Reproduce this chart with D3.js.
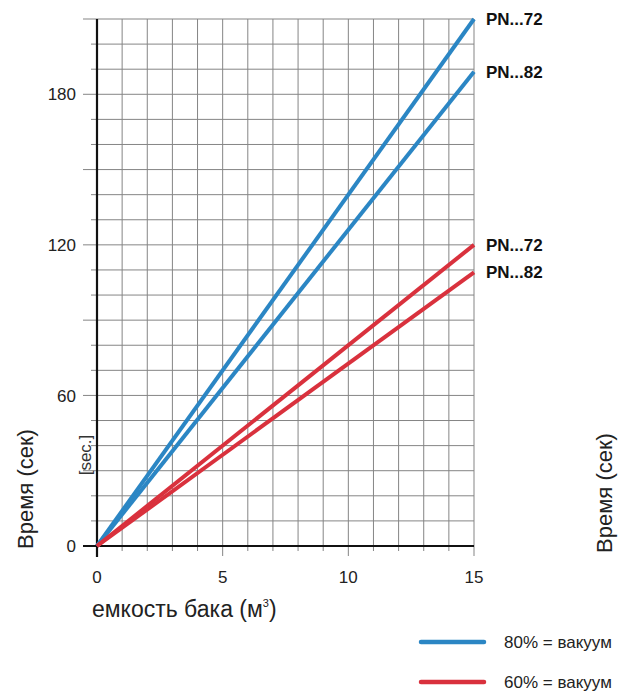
<!DOCTYPE html>
<html>
<head>
<meta charset="utf-8">
<script src="https://cdn.jsdelivr.net/npm/d3@7"></script>
<style>
  body { margin: 0; background: #fff; }
  svg { font-family: "Liberation Sans", Arial, sans-serif; }
</style>
</head>
<body>
<svg id="chart" width="625" height="695"></svg>
<script>
// tank volume (m3) and time (sec) for each curve
const volumes = [0, 15];
const blue72 = [0, 210];
const blue82 = [0, 189];
const red72 = [0, 120];
const red82 = [0, 109];
const seriesNames = ["PN...72", "PN...82", "PN...72", "PN...82"];
const legendLabels = ["80% = вакуум", "60% = вакуум"];
const xTicks = [0, 5, 10, 15];
const yTicks = [0, 60, 120, 180];

const blue = "#2b86c4", red = "#d9313d";
const series = [
  { name: seriesNames[0], values: blue72, color: blue },
  { name: seriesNames[1], values: blue82, color: blue },
  { name: seriesNames[2], values: red72, color: red },
  { name: seriesNames[3], values: red82, color: red }
];

const margin = { left: 97, right: 474, top: 19, bottom: 546 };
const svg = d3.select("#chart");

const x = d3.scaleLinear().domain([0, 15]).range([margin.left, margin.right]);
const y = d3.scaleLinear().domain([0, 210]).range([margin.bottom, margin.top]);

// grid
const grid = svg.append("g").attr("stroke", "#858585").attr("stroke-width", 1);
d3.range(1, 16).forEach(v => {
  grid.append("line")
    .attr("x1", x(v)).attr("x2", x(v))
    .attr("y1", y(210)).attr("y2", y(0) + (v % 5 === 0 ? 10 : 5));
});
d3.range(10, 211, 10).forEach(v => {
  grid.append("line")
    .attr("x1", x(0) - (v % 30 === 0 ? 14 : 6)).attr("x2", x(15))
    .attr("y1", y(v)).attr("y2", y(v));
});

// main axes
svg.append("line")
  .attr("x1", x(0)).attr("x2", x(0))
  .attr("y1", y(210)).attr("y2", y(0) + 11)
  .attr("stroke", "#111").attr("stroke-width", 2.2);
svg.append("line")
  .attr("x1", x(0) - 14).attr("x2", x(15))
  .attr("y1", y(0)).attr("y2", y(0))
  .attr("stroke", "#111").attr("stroke-width", 2.2);

// tick labels
svg.append("g").selectAll("text").data(yTicks).join("text")
  .attr("x", x(0) - 21).attr("y", d => y(d)).attr("dy", "0.36em")
  .attr("text-anchor", "end").attr("font-size", 17).attr("fill", "#222")
  .text(d => d);
svg.append("g").selectAll("text").data(xTicks).join("text")
  .attr("x", d => x(d)).attr("y", y(0) + 37)
  .attr("text-anchor", "middle").attr("font-size", 17).attr("fill", "#222")
  .text(d => d);

// lines
const line = d3.line().x((d, i) => x(volumes[i])).y(d => y(d));
svg.append("g").selectAll("path").data(series).join("path")
  .attr("d", d => line(d.values))
  .attr("fill", "none")
  .attr("stroke", d => d.color)
  .attr("stroke-width", 4);

// series labels
svg.append("g").selectAll("text").data(series).join("text")
  .attr("x", x(15) + 12)
  .attr("y", d => y(d.values[1])).attr("dy", "0.35em")
  .attr("font-size", 17).attr("font-weight", "bold").attr("fill", "#111")
  .text(d => d.name);

// axis titles
svg.append("text")
  .attr("transform", `translate(33,489) rotate(-90)`)
  .attr("text-anchor", "middle").attr("font-size", 22).attr("fill", "#222")
  .text("Время (сек)");
svg.append("text")
  .attr("transform", `translate(612,493) rotate(-90)`)
  .attr("text-anchor", "middle").attr("font-size", 22).attr("fill", "#222")
  .text("Время (сек)");
svg.append("text")
  .attr("transform", `translate(91,455) rotate(-90)`)
  .attr("text-anchor", "middle").attr("font-size", 17).attr("fill", "#333")
  .text("[sec.]");

const xt = svg.append("text")
  .attr("x", 92).attr("y", 617)
  .attr("font-size", 23).attr("fill", "#222");
xt.append("tspan").text("емкость бака (м");
xt.append("tspan").attr("font-size", 11).attr("dy", -10).text("3");
xt.append("tspan").attr("dy", 10).text(")");

// legend
const legend = svg.append("g");
[blue, red].forEach((c, i) => {
  const ly = 642 + i * 40;
  legend.append("line")
    .attr("x1", 421).attr("x2", 484).attr("y1", ly).attr("y2", ly)
    .attr("stroke", c).attr("stroke-width", 4.5).attr("stroke-linecap", "round");
  legend.append("text")
    .attr("x", 504).attr("y", ly).attr("dy", "0.36em")
    .attr("font-size", 17).attr("fill", "#222")
    .text(legendLabels[i]);
});
</script>
</body>
</html>
